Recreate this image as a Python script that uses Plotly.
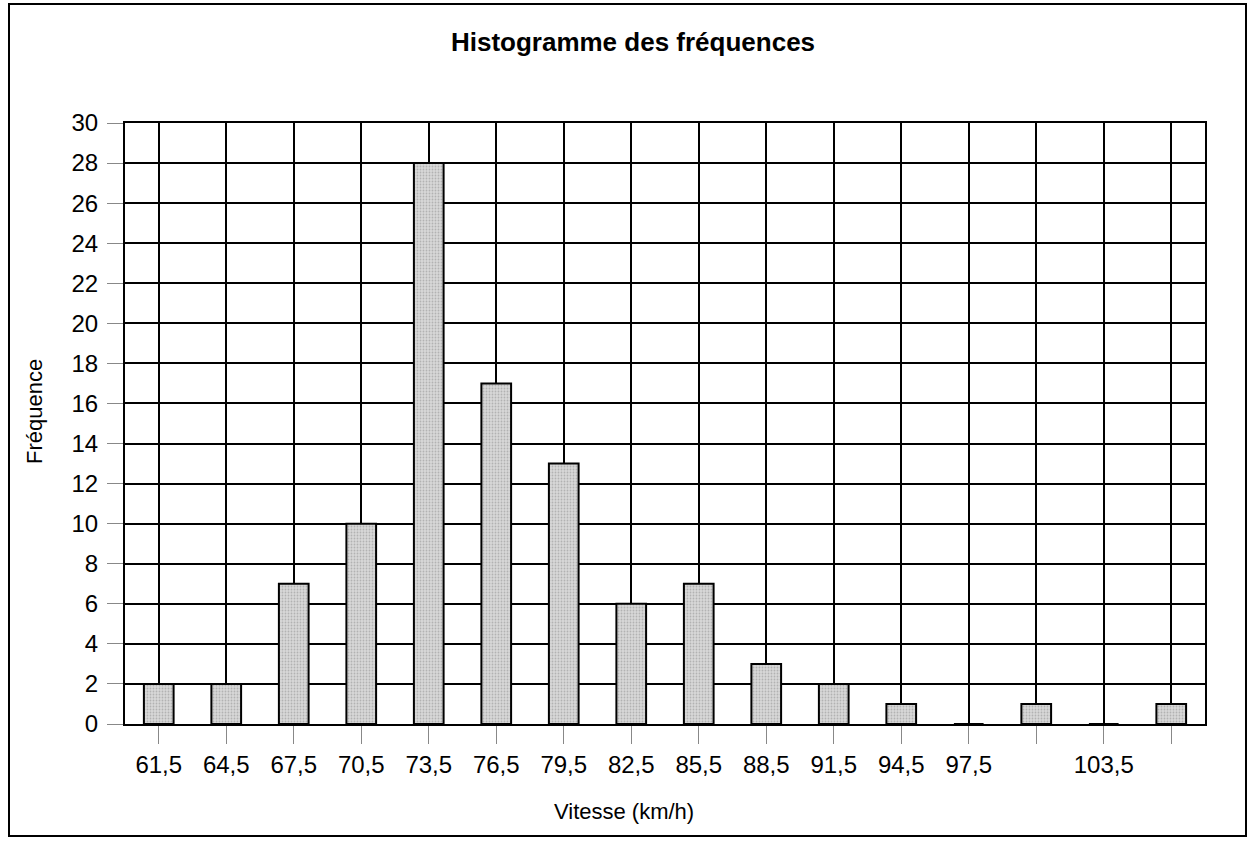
import plotly.graph_objects as go

categories = ["61,5", "64,5", "67,5", "70,5", "73,5", "76,5", "79,5", "82,5",
              "85,5", "88,5", "91,5", "94,5", "97,5", "100,5", "103,5", "106,5"]
frequencies = [2, 2, 7, 10, 28, 17, 13, 6, 7, 3, 2, 1, 0, 1, 0, 1]
tick_labels = ["61,5", "64,5", "67,5", "70,5", "73,5", "76,5", "79,5", "82,5",
               "85,5", "88,5", "91,5", "94,5", "97,5", "", "103,5", ""]
y_ticks = list(range(0, 31, 2))

W, H = 1251, 841
L, R, T, B = 125, 46, 123, 117
pw, ph = W - L - R, H - T - B


def px(xpix):
    return (xpix - L) / pw


def py(ypix):
    return (H - B - ypix) / ph


fig = go.Figure()
fig.add_trace(go.Bar(
    x=categories, y=frequencies,
    marker=dict(color="#c8c8c8", line=dict(color="black", width=2),
                pattern=dict(shape=".", fgcolor="#8c8c8c", bgcolor="#d8d8d8", size=3, solidity=0.3)),
    width=0.44,
))

FONT = "Liberation Sans, Arial, sans-serif"

fig.update_layout(
    width=W, height=H,
    margin=dict(l=L, r=R, t=T, b=B),
    paper_bgcolor="white", plot_bgcolor="white",
    font=dict(family=FONT, color="black"),
    title=dict(text="<b>Histogramme des fréquences</b>", xref="container", x=633 / W, xanchor="center",
               yref="container", y=1 - 42 / H, yanchor="middle", font=dict(size=26)),
    showlegend=False,
    xaxis=dict(
        type="category", tickmode="array", tickvals=categories, ticktext=tick_labels,
        showgrid=True, gridcolor="black", gridwidth=2,
        showline=True, linecolor="black", linewidth=2, mirror=True,
        ticks="outside", ticklen=18, tickcolor="#888888", tickwidth=1,
        tickfont=dict(size=24), ticklabelstandoff=0,
        range=[-0.5, 15.5],
    ),
    yaxis=dict(
        range=[0, 30], tickmode="array", tickvals=y_ticks,
        showgrid=True, gridcolor="black", gridwidth=2,
        showline=True, linecolor="black", linewidth=2, mirror=True,
        ticks="outside", ticklen=16, tickcolor="#888888", tickwidth=1,
        tickfont=dict(size=24), zeroline=False, ticklabelstandoff=4,
    ),
    annotations=[
        dict(text="Fréquence", xref="paper", yref="paper", x=px(34), y=py(412),
             xanchor="center", yanchor="middle", textangle=-90, showarrow=False,
             font=dict(size=22)),
        dict(text="Vitesse (km/h)", xref="paper", yref="paper", x=px(624), y=py(811),
             xanchor="center", yanchor="middle", showarrow=False,
             font=dict(size=22)),
    ],
    shapes=[dict(type="rect", xref="paper", yref="paper",
                 x0=px(9), x1=px(1246), y0=py(836), y1=py(4),
                 line=dict(color="black", width=2), fillcolor="rgba(0,0,0,0)", layer="below")],
)

fig.write_html("out.html", config={"displayModeBar": False},
               post_script="document.body.style.margin='0';")
